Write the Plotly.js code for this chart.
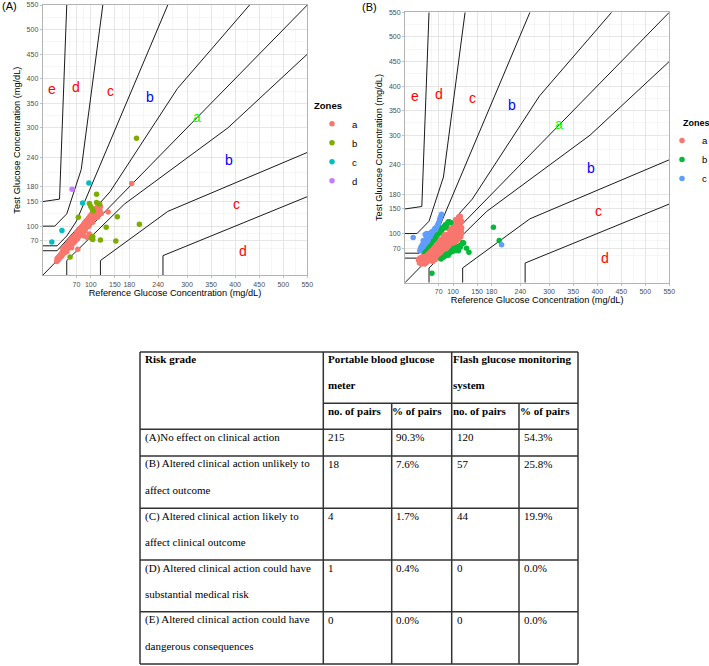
<!DOCTYPE html>
<html><head><meta charset="utf-8">
<script src="https://cdn.plot.ly/plotly-3.0.1.min.js"></script>
<style>html,body{margin:0;padding:0;background:#fff;overflow:hidden}#chart{width:709px;height:666px}</style>
</head><body><div id="chart"></div>
<script>
// ---------- tick labels ----------
const majorTicks = [70,100,150,180,240,300,350,400,450,500,550];
const minorTicks = [55,85,125,165,210,270,325,375,425,475,525];

// ---------- Parkes grid (type 1) boundary lines ----------
const eUpperX = [0,35,50],            eUpperY = [150,155,550];
const dUpperX = [0,25,50,80,125],     dUpperY = [100,100,125,215,550];
const cUpperX = [0,30,50,70,260],     cUpperY = [60,60,80,110,550];
const bUpperX = [0,30,140,280,430],   bUpperY = [50,50,170,380,550];
const bLowerX = [50,50,170,385,550],  bLowerY = [0,30,145,300,450];
const cLowerX = [120,120,260,550],    cLowerY = [0,30,130,250];
const dLowerX = [250,250,550],        dLowerY = [0,40,160];
const identX = [0,550],               identY = [0,550];

// ---------- zone labels ----------
const zoneText  = ["e","d","c","b","a","b","c","d"];
const zoneRef   = [20,70,140,222,320,387,403,417];
const zoneTest  = [380,383,376,362,322,234,146,50];

// ---------- Panel A: portable blood glucose meter ----------
const aRef_a = [29,30,31,32,33,34,35,36,37,38,39,40,41,42,43,44,45,46,47,48,49,50,51,52,53,54,55,56,57,58,59,60,61,62,63,64,65,66,67,68,69,70,71,72,73,74,75,76,77,78,79,80,81,82,83,84,85,86,87,88,89,90,91,92,93,94,95,96,97,98,99,100,101,102,103,104,105,106,107,108,109,110,111,112,113,114,115,116,117,118,119,120,110,108,105,102,100,98,95,92,90,88,85,82,80,78,75,72,70,66,62,58,55,52,48,45,42,106,112,115,118,114,104,96,88,80,72,64,56,93,73,97,86,136,185,122,118,60,50];
const aTest_a = [28,34,30,36,32,38,35,41,37,43,39,46,42,48,44,50,46,53,49,55,51,57,53,59,55,62,57,64,59,66,61,69,63,71,66,73,68,75,70,78,72,80,75,82,77,85,79,87,82,89,84,92,86,94,89,96,91,99,93,101,96,103,98,106,100,108,103,110,105,113,107,115,110,117,112,120,115,122,117,125,120,127,122,130,125,132,128,135,130,138,133,140,135,132,128,125,122,120,116,112,110,108,104,100,98,95,92,88,86,81,77,72,68,65,60,56,53,132,137,140,142,118,108,100,90,82,74,66,58,77,53,84,80,129,187,126,124,56,48];
const aRef_b  = [195,112,112,118,97,100,103,105,74,155,132,201,120,152,104,104,101,57];
const aTest_b = [279,165,148,145,146,140,135,131,118,119,98,104,72,70,79,73,76,37];
const aRef_c  = [96,83,40,19];
const aTest_c = [188,147,91,68];
const aRef_d  = [61];
const aTest_d = [175];

// ---------- Panel B: flash glucose monitoring system ----------
const bRef_a = [28,30,31,33,34,35,36,37,38,39,40,41,42,43,44,45,46,47,48,49,50,51,52,53,54,55,56,57,58,59,60,61,62,63,64,65,66,67,68,69,70,71,72,73,74,75,76,77,78,79,80,81,82,83,84,85,86,87,88,89,90,91,92,93,94,95,96,97,98,99,100,101,102,103,104,105,106,107,108,109,110,111,112,113,114,115,116,117,118,110,105,100,95,90,85,80,75,70,65,60,55,50,45,40,112,108,104,100,115,118,113,109,105,102,110,107,104,115,112,118,98,94,88,84,78,72,68,62,58,52,48,44,36,32,60,70,80,90,100,110,115,105];
const bTest_a = [46,40,50,44,38,52,47,41,55,50,44,38,58,52,47,41,60,55,50,44,62,57,52,46,65,60,55,49,43,68,63,58,52,47,71,66,61,55,50,74,69,64,58,55,77,72,67,61,60,80,75,70,64,64,83,78,73,67,68,86,81,76,72,73,89,84,79,79,78,92,87,82,80,82,95,90,85,86,87,98,93,89,90,101,96,93,94,105,100,108,102,98,95,92,90,86,82,78,74,70,66,58,54,50,115,112,110,106,120,112,124,120,118,114,128,126,122,130,134,125,110,104,98,95,90,86,80,76,72,64,58,50,45,42,78,88,98,110,120,130,135,128];
const bRef_b  = [38,40,42,44,46,48,50,52,54,55,56,58,60,62,63,65,66,68,70,72,74,75,76,78,80,82,84,85,88,90,92,95,56,75,80,84,86,90,92,95,98,100,102,105,107,108,110,111,113,115,118,120,122,133,128,184,196];
const bTest_b = [64,66,68,70,72,74,75,79,80,83,85,86,88,90,93,95,98,99,100,103,106,110,108,112,110,115,118,113,120,124,124,122,19,48,52,55,58,56,60,62,66,64,70,66,68,72,70,65,75,72,78,82,81,62,70,113,86];
const bRef_c  = [17,201,31,32,33,34,35,36,37,38,39,40,41,42,43,44,45,46,47,48,45,47,49,50,51,52,53,54,55,56,58,60,62,64,66,68,70,72,74,76,73,44,42,38];
const bTest_c = [92,77,65,68,72,70,75,72,78,74,80,77,83,79,85,82,88,84,90,86,100,95,98,92,96,100,94,99,103,100,104,106,110,108,114,118,122,128,134,139,131,95,98,86];

// ---------- table ----------
const tableHeader = ["Risk grade","Portable blood glucose\nmeter","Flash glucose monitoring\nsystem"];
const subHeader = ["no. of pairs","% of pairs","no. of pairs","% of pairs"];
const riskGrades = ["(A)No effect on clinical action",
  "(B) Altered clinical action unlikely to\naffect outcome",
  "(C) Altered clinical action likely to\naffect clinical outcome",
  "(D) Altered clinical action could have\nsubstantial medical risk",
  "(E) Altered clinical action could have\ndangerous consequences"];
const bgmPairs = [215,18,4,1,0];
const bgmPct = ["90.3%","7.6%","1.7%","0.4%","0.0%"];
const fgmPairs = [120,57,44,0,0];
const fgmPct = ["54.3%","25.8%","19.9%","0.0%","0.0%"];

// ---------- layout helpers ----------
const W = 709, H = 666;
const px = v => v / W;
const py = v => 1 - v / H;
const SANS = "Liberation Sans, Arial, sans-serif";
const SERIF = "Liberation Serif, Times New Roman, serif";

function joinLines(list){
  const xs=[], ys=[];
  list.forEach(([lx,ly],i)=>{ if(i){xs.push(null);ys.push(null);} xs.push(...lx); ys.push(...ly); });
  return [xs,ys];
}
const [gridX, gridY] = joinLines([[eUpperX,eUpperY],[dUpperX,dUpperY],[cUpperX,cUpperY],[bUpperX,bUpperY],[bLowerX,bLowerY],[cLowerX,cLowerY],[dLowerX,dLowerY],[identX,identY]]);

const traces = [];
function addPanel(xa, ya, leg, sets){
  traces.push({type:'scatter',mode:'lines',x:gridX,y:gridY,xaxis:xa,yaxis:ya,line:{color:'#1a1a1a',width:1},showlegend:false,hoverinfo:'skip',connectgaps:false});
  sets.forEach(s=>{
    traces.push({type:'scatter',mode:'markers',x:s.x,y:s.y,xaxis:xa,yaxis:ya,name:s.name,legend:leg,
      marker:{color:s.color,size:5.5,line:{width:0}}});
  });
}
addPanel('x','y','legend',[
  {name:'a',x:aRef_a,y:aTest_a,color:'#F8766D'},
  {name:'b',x:aRef_b,y:aTest_b,color:'#7CAE00'},
  {name:'c',x:aRef_c,y:aTest_c,color:'#00BFC4'},
  {name:'d',x:aRef_d,y:aTest_d,color:'#C77CFF'}]);
addPanel('x2','y2','legend2',[
  {name:'a',x:bRef_a,y:bTest_a,color:'#F8766D'},
  {name:'b',x:bRef_b,y:bTest_b,color:'#00BA38'},
  {name:'c',x:bRef_c,y:bTest_c,color:'#619CFF'}]);

function axis(domain, title, standoff){
  return {domain:domain, range:[0,550], autorange:false, tickmode:'array', tickvals:majorTicks,
    ticktext:majorTicks.map(String), showgrid:true, gridcolor:'#E0E0E0', gridwidth:0.8,
    minor:{tickmode:'array', tickvals:minorTicks, showgrid:true, gridcolor:'#EEEEEE', gridwidth:0.5, ticks:''},
    showline:true, mirror:true, linecolor:'#B3B3B3', linewidth:1, ticks:'outside', ticklen:2,
    tickcolor:'#B3B3B3', tickwidth:0.8, zeroline:false, fixedrange:true,
    tickfont:{family:SANS,size:7,color:'#4D4D4D'},
    title:{text:title, font:{family:SANS,size:9.2,color:'#000'}, standoff:standoff}};
}

const annotations = [];
function zoneLabels(xr, yr){
  const col = {a:'#00FF00', b:'#0000FF', c:'#FF0000', d:'#FF0000', e:'#FF0000'};
  zoneText.forEach((t,i)=>annotations.push({xref:xr,yref:yr,x:zoneRef[i],y:zoneTest[i],text:t,showarrow:false,
    font:{family:SANS,size:14,color:col[t]}}));
}
zoneLabels('x','y'); zoneLabels('x2','y2');
annotations.push({xref:'paper',yref:'paper',x:px(0),y:py(6),xanchor:'left',yanchor:'middle',text:'(A)',showarrow:false,font:{family:SANS,size:11,color:'#000'}});
annotations.push({xref:'paper',yref:'paper',x:px(360),y:py(7),xanchor:'left',yanchor:'middle',text:'(B)',showarrow:false,font:{family:SANS,size:11,color:'#000'}});
// title of panel B legend (placed as text so the narrow right edge keeps the items visible)
annotations.push({xref:'paper',yref:'paper',x:px(682),y:py(123),xanchor:'left',yanchor:'middle',text:'<b>Zones</b>',showarrow:false,borderpad:0,font:{family:SANS,size:9,color:'#000'}});

// table text
function cellText(x, y, txt, bold){
  txt.split('\n').forEach((ln,k)=>annotations.push({xref:'paper',yref:'paper',x:px(x),y:py(y+26*k),xanchor:'left',yanchor:'middle',
    text: bold?'<b>'+ln+'</b>':ln, showarrow:false, borderpad:0, font:{family:SERIF,size:11,color:'#000'}}));
}
const colText = [144, 327, 395, 456, 523];
const colHead = [144, 327, 391, 452, 519];
cellText(colHead[0],359,tableHeader[0],true);
cellText(colHead[1],359,tableHeader[1],true);
cellText(colHead[3],359,tableHeader[2],true);
subHeader.forEach((s,i)=>cellText(colHead[i+1],411,s,true));
const rowTops = [429.3,456,508.3,560,611.7];
riskGrades.forEach((r,i)=>{
  const y = rowTops[i]+8;
  cellText(colText[0],y,r,false);
  cellText(colText[1],y,String(bgmPairs[i]),false);
  cellText(colText[2],y,bgmPct[i],false);
  cellText(colText[3],y,String(fgmPairs[i]),false);
  cellText(colText[4],y,fgmPct[i],false);
});

// table lines
const shapes = [];
const L=140, R=578, T=352, B=664, c1=323.3, c2=451.7, s1=391.7, s2=519, sub=403.3;
function ln(x0,y0,x1,y1){shapes.push({type:'line',xref:'paper',yref:'paper',x0:px(x0),y0:py(y0),x1:px(x1),y1:py(y1),line:{color:'#333',width:1.5}});}
[L,c1,c2,R].forEach(x=>ln(x,T,x,B));
[s1,s2].forEach(x=>ln(x,sub,x,B));
ln(c1,sub,R,sub);
[T,429.3,456,508.3,560,611.7,B].forEach(y=>ln(L,y,R,y));

const legendBase = {xanchor:'left',yanchor:'top',bgcolor:'rgba(0,0,0,0)',borderwidth:0,
  font:{family:SANS,size:9.5,color:'#000'}, itemwidth:30, tracegroupgap:0};

const layout = {
  width:W, height:H, margin:{l:0,r:0,t:0,b:0,autoexpand:false},
  paper_bgcolor:'#fff', plot_bgcolor:'#fff', showlegend:true,
  xaxis: Object.assign(axis([px(42.7),px(307.3)],'Reference Glucose Concentration (mg/dL)',2),{anchor:'y'}),
  yaxis: Object.assign(axis([py(275.3),py(5)],'Test Glucose Concentration (mg/dL)',4),{anchor:'x'}),
  xaxis2: Object.assign(axis([px(405),px(669.3)],'Reference Glucose Concentration (mg/dL)',2),{anchor:'y2'}),
  yaxis2: Object.assign(axis([py(282.7),py(12.3)],'Test Glucose Concentration (mg/dL)',4),{anchor:'x2'}),
  legend: Object.assign({}, legendBase, {x:px(312), y:py(97),
    title:{text:'<b>Zones</b>',font:{family:SANS,size:9.5,color:'#000'}}}),
  legend2: Object.assign({}, legendBase, {x:px(662), y:py(126)}),
  annotations: annotations, shapes: shapes
};
Plotly.newPlot('chart', traces, layout, {staticPlot:true, displayModeBar:false});
</script></body></html>
